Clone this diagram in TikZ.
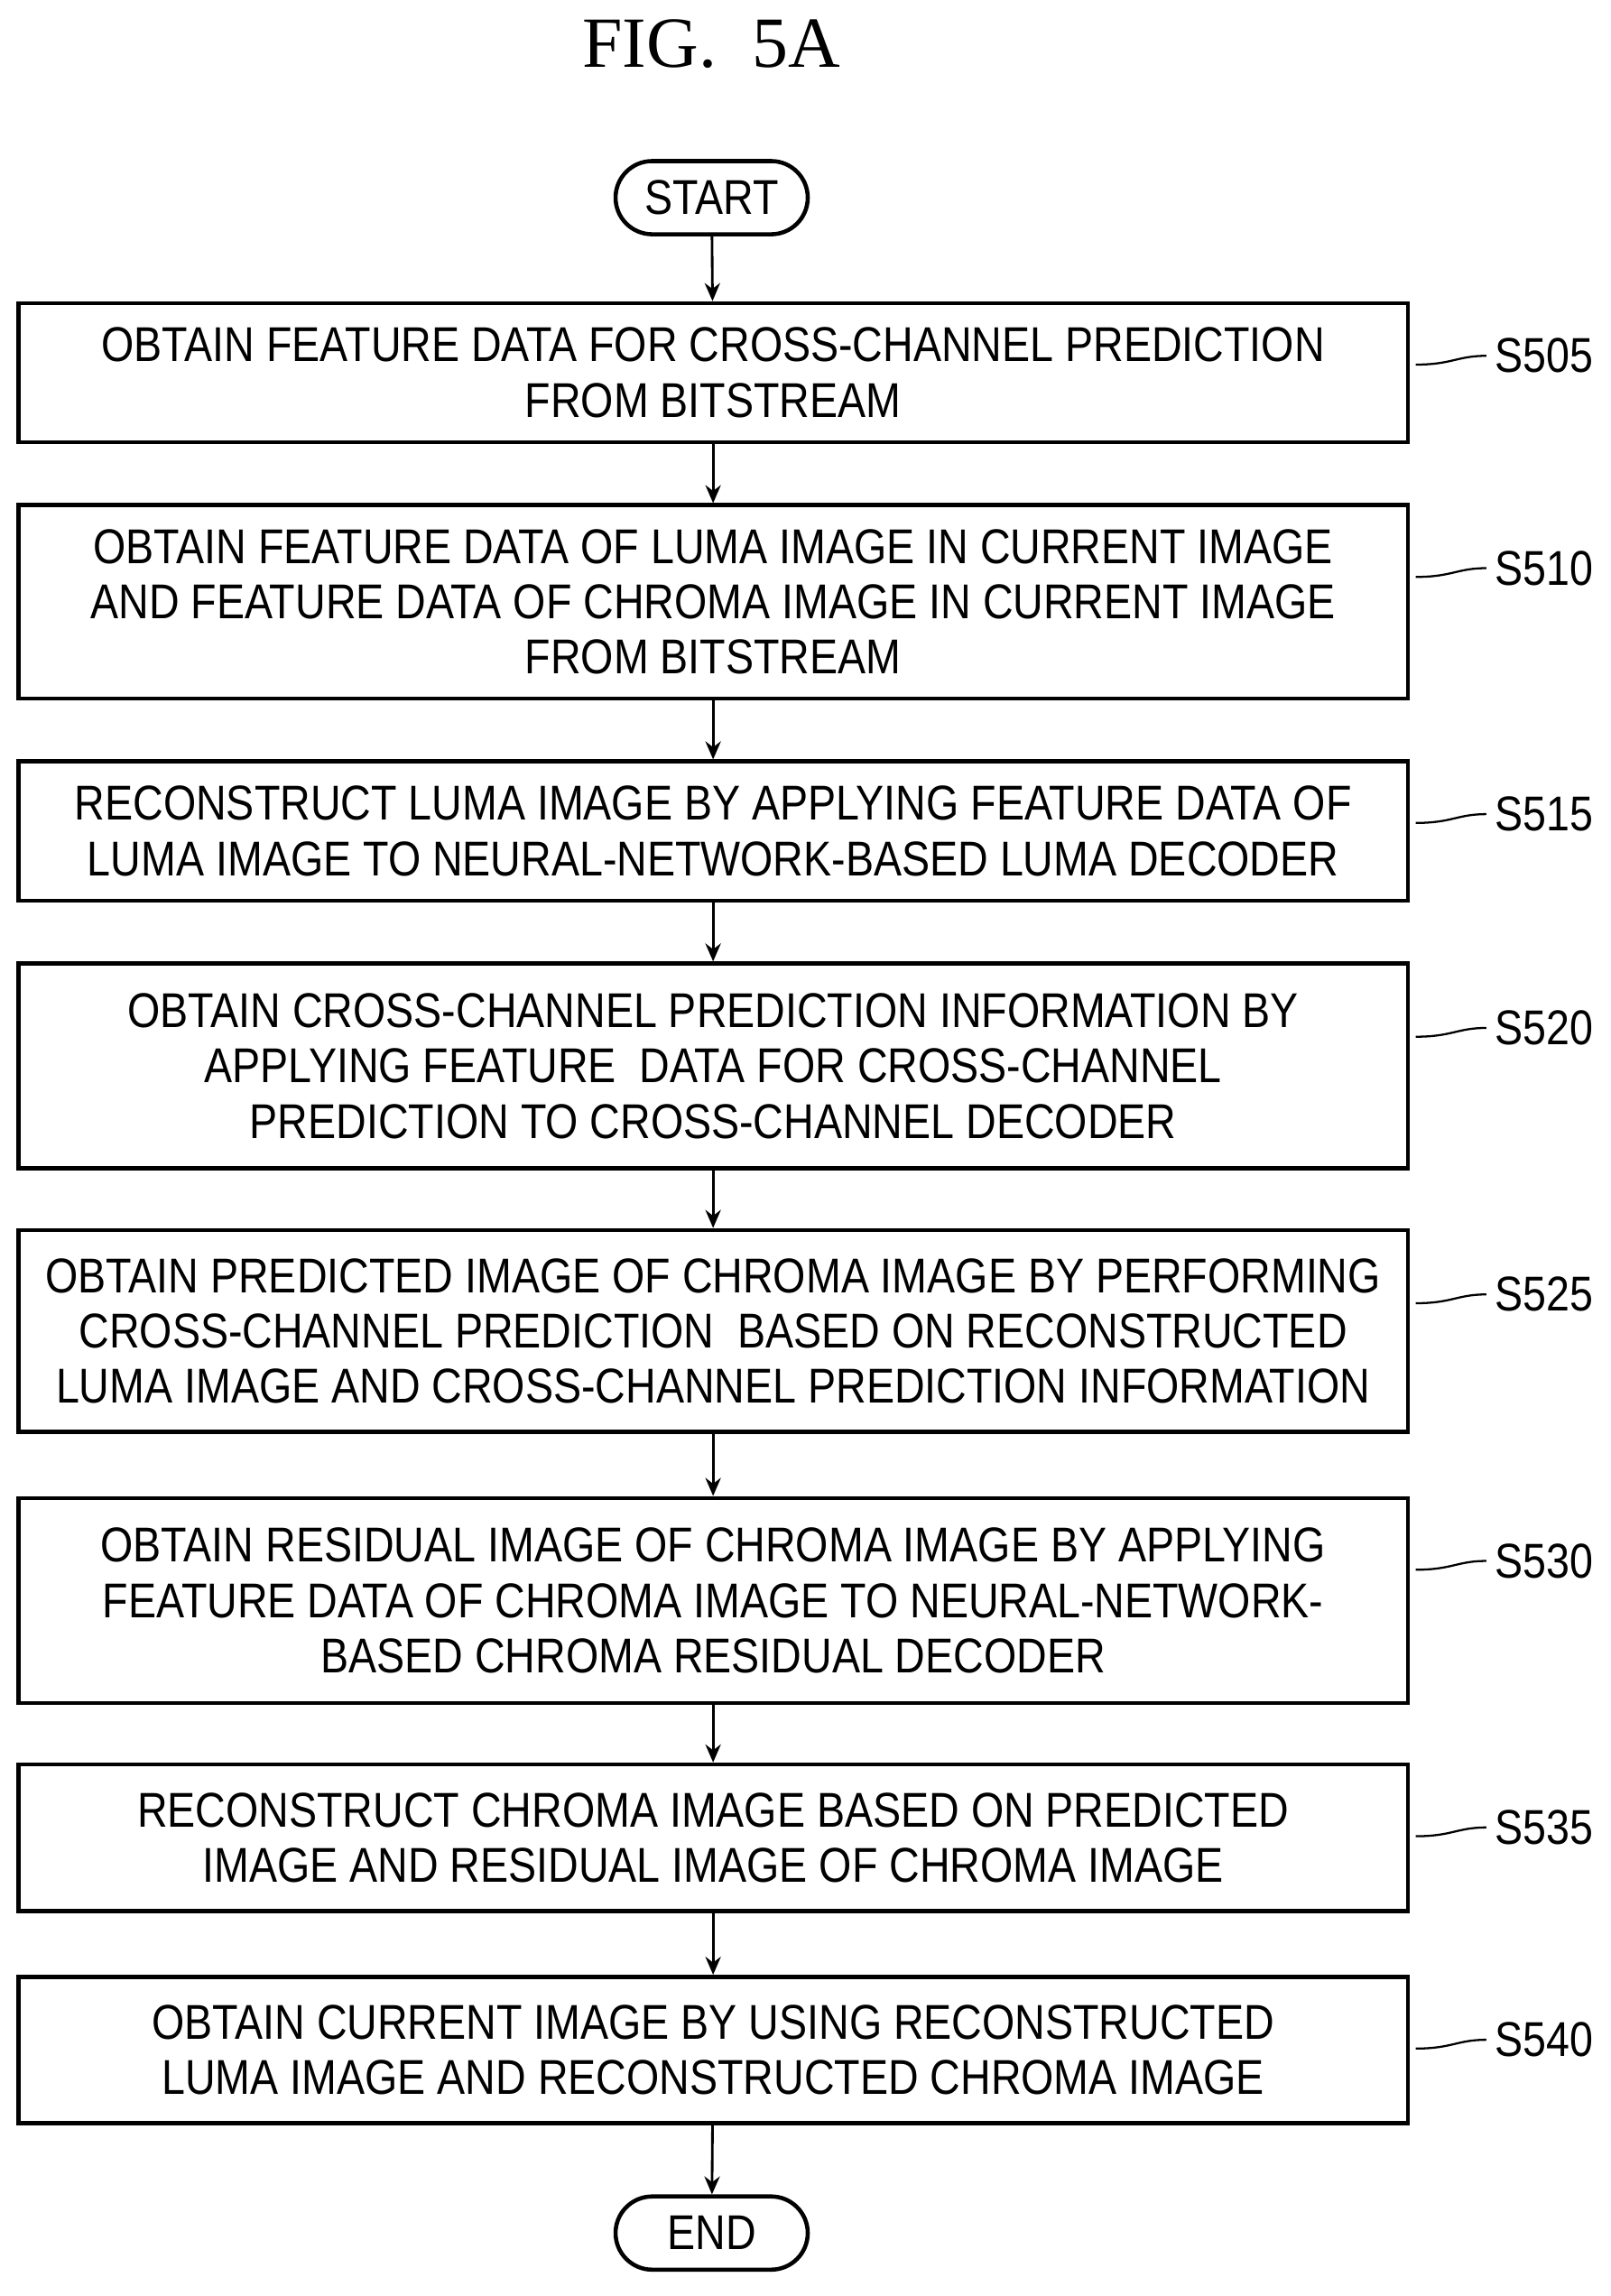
\documentclass[tikz,border=0pt]{standalone}
\usepackage{fontspec}
\setmainfont{Liberation Sans}[FakeStretch=0.86]
\newfontfamily\titlefont{Liberation Serif}
\usetikzlibrary{arrows.meta, positioning, shapes}

\begin{document}
\begin{tikzpicture}[
    x=0.02cm, y=-0.02cm,
    block/.style={rectangle, draw, line width=1.6pt, minimum width=18.98cm, align=center,
        font=\fontsize{19}{21.5}\selectfont, inner sep=0pt},
    term/.style={rounded rectangle, draw, line width=1.6pt, minimum width=2.86cm, minimum height=1cm,
        font=\fontsize{19}{21}\selectfont},
    lab/.style={font=\fontsize{19}{21}\selectfont, anchor=west},
    arrow/.style={line width=1pt, -{Stealth[length=7pt, width=6pt]}},
    lead/.style={line width=0.8pt},
]
    \useasboundingbox (0,0) rectangle (1100,1568);
    \node[font=\titlefont\fontsize{28}{30}\selectfont] (title) at (486,30) {FIG.\ \ 5A};

    % Flow steps
    \node[term] (start) at (486,135) {START};
    \node[block, minimum height=1.9cm] (s505) at (487,254.5) {OBTAIN FEATURE DATA FOR CROSS-CHANNEL PREDICTION\\FROM BITSTREAM};
    \node[block, minimum height=2.64cm] (s510) at (487,411) {OBTAIN FEATURE DATA OF LUMA IMAGE IN CURRENT IMAGE\\AND FEATURE DATA OF CHROMA IMAGE IN CURRENT IMAGE\\FROM BITSTREAM};
    \node[block, minimum height=1.9cm] (s515) at (487,567.5) {RECONSTRUCT LUMA IMAGE BY APPLYING FEATURE DATA OF\\LUMA IMAGE TO NEURAL-NETWORK-BASED LUMA DECODER};
    \node[block, minimum height=2.8cm] (s520) at (487,728) {OBTAIN CROSS-CHANNEL PREDICTION INFORMATION BY\\APPLYING FEATURE \ DATA FOR CROSS-CHANNEL\\PREDICTION TO CROSS-CHANNEL DECODER};
    \node[block, minimum height=2.76cm] (s525) at (487,909) {OBTAIN PREDICTED IMAGE OF CHROMA IMAGE BY PERFORMING\\CROSS-CHANNEL PREDICTION \ BASED ON RECONSTRUCTED\\LUMA IMAGE AND CROSS-CHANNEL PREDICTION INFORMATION};
    \node[block, minimum height=2.8cm] (s530) at (487,1093) {OBTAIN RESIDUAL IMAGE OF CHROMA IMAGE BY APPLYING\\FEATURE DATA OF CHROMA IMAGE TO NEURAL-NETWORK-\\BASED CHROMA RESIDUAL DECODER};
    \node[block, minimum height=2cm] (s535) at (487,1255) {RECONSTRUCT CHROMA IMAGE BASED ON PREDICTED\\IMAGE AND RESIDUAL IMAGE OF CHROMA IMAGE};
    \node[block, minimum height=2cm] (s540) at (487,1400) {OBTAIN CURRENT IMAGE BY USING RECONSTRUCTED\\LUMA IMAGE AND RECONSTRUCTED CHROMA IMAGE};
    \node[term] (end) at (486,1525) {END};

    % Step labels
    \node[lab] (l505) at (1015,243) {S505};
    \node[lab] (l510) at (1015,388) {S510};
    \node[lab] (l515) at (1015,556) {S515};
    \node[lab] (l520) at (1015,702) {S520};
    \node[lab] (l525) at (1015,884) {S525};
    \node[lab] (l530) at (1015,1066) {S530};
    \node[lab] (l535) at (1015,1248) {S535};
    \node[lab] (l540) at (1015,1393) {S540};

    % Connect everything
    \draw[arrow] (start) -- (s505);
    \draw[arrow] (s505) -- (s510);
    \draw[arrow] (s510) -- (s515);
    \draw[arrow] (s515) -- (s520);
    \draw[arrow] (s520) -- (s525);
    \draw[arrow] (s525) -- (s530);
    \draw[arrow] (s530) -- (s535);
    \draw[arrow] (s535) -- (s540);
    \draw[arrow] (s540) -- (end);

    % Leaders
    \draw[lead] (s505.east |- l505) ++(4,6) .. controls +(25,0) and +(-20,0) .. (l505.west);
    \draw[lead] (s510.east |- l510) ++(4,6) .. controls +(25,0) and +(-20,0) .. (l510.west);
    \draw[lead] (s515.east |- l515) ++(4,6) .. controls +(25,0) and +(-20,0) .. (l515.west);
    \draw[lead] (s520.east |- l520) ++(4,6) .. controls +(25,0) and +(-20,0) .. (l520.west);
    \draw[lead] (s525.east |- l525) ++(4,6) .. controls +(25,0) and +(-20,0) .. (l525.west);
    \draw[lead] (s530.east |- l530) ++(4,6) .. controls +(25,0) and +(-20,0) .. (l530.west);
    \draw[lead] (s535.east |- l535) ++(4,6) .. controls +(25,0) and +(-20,0) .. (l535.west);
    \draw[lead] (s540.east |- l540) ++(4,6) .. controls +(25,0) and +(-20,0) .. (l540.west);
\end{tikzpicture}
\end{document}
